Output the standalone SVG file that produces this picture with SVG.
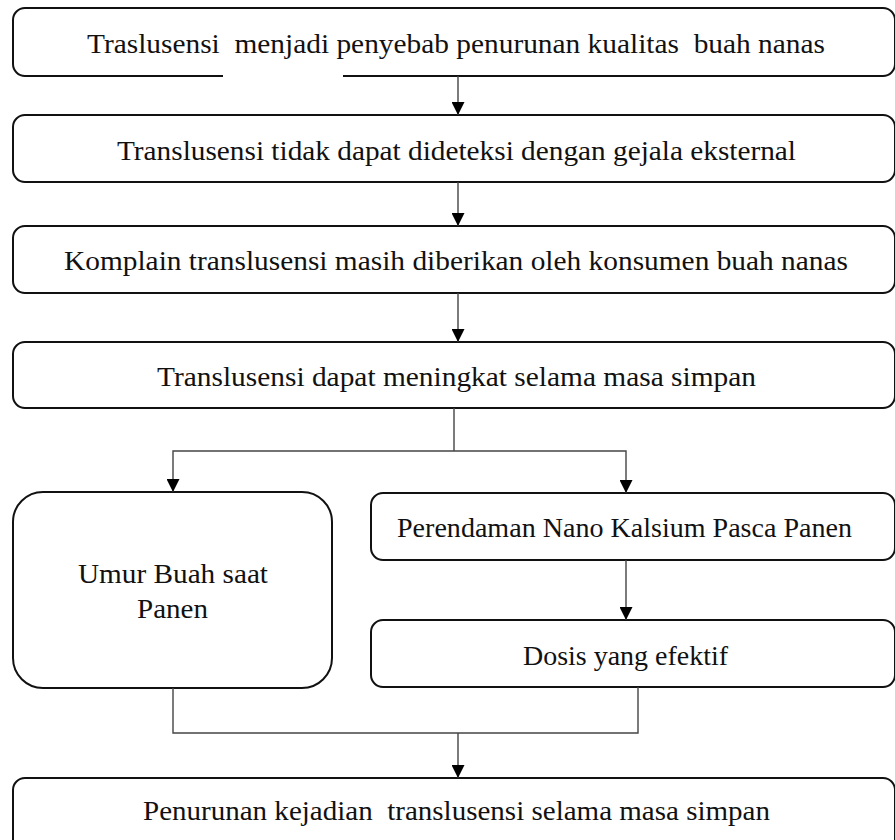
<svg xmlns="http://www.w3.org/2000/svg" width="895" height="840" viewBox="0 0 895 840">
<style>
.box{fill:#fff;stroke:#111;stroke-width:2}
.lbl{font-family:"Liberation Serif","Times New Roman",serif;font-size:28px;fill:#111;text-anchor:middle;white-space:pre}
.con{fill:none;stroke:#444;stroke-width:1.4}
</style>
<defs>
<marker id="arr" markerUnits="userSpaceOnUse" markerWidth="13" markerHeight="13" refX="13" refY="6.5" orient="auto">
<path d="M0,0 L13,6.5 L0,13 z" fill="#000"/>
</marker>
</defs>
<rect width="895" height="840" fill="#fff"/>
<g id="n1">
<rect class="box" x="13" y="8" width="882" height="68" rx="12"/>
<rect x="223" y="74" width="120" height="4" fill="#fff"/>
<text class="lbl" x="456" y="53" textLength="738" lengthAdjust="spacingAndGlyphs">Traslusensi  menjadi penyebab penurunan kualitas  buah nanas</text>
</g>
<g id="n2">
<rect class="box" x="13" y="115" width="882" height="67" rx="12"/>
<text class="lbl" x="456.5" y="160" textLength="679" lengthAdjust="spacingAndGlyphs">Translusensi tidak dapat dideteksi dengan gejala eksternal</text>
</g>
<g id="n3">
<rect class="box" x="13" y="226" width="882" height="67" rx="12"/>
<text class="lbl" x="456" y="270" textLength="784" lengthAdjust="spacingAndGlyphs">Komplain translusensi masih diberikan oleh konsumen buah nanas</text>
</g>
<g id="n4">
<rect class="box" x="13" y="342" width="882" height="66" rx="12"/>
<text class="lbl" x="456.5" y="386" textLength="599" lengthAdjust="spacingAndGlyphs">Translusensi dapat meningkat selama masa simpan</text>
</g>
<g id="n5">
<rect class="box" x="13" y="492" width="319" height="196" rx="30"/>
<text class="lbl" x="173" y="583" textLength="190" lengthAdjust="spacingAndGlyphs">Umur Buah saat</text>
<text class="lbl" x="172.5" y="618" textLength="71" lengthAdjust="spacingAndGlyphs">Panen</text>
</g>
<g id="n6">
<rect class="box" x="371" y="493" width="524" height="67" rx="12"/>
<text class="lbl" x="624.5" y="537" textLength="455" lengthAdjust="spacingAndGlyphs">Perendaman Nano Kalsium Pasca Panen</text>
</g>
<g id="n7">
<rect class="box" x="371" y="620" width="524" height="67" rx="12"/>
<text class="lbl" x="625.5" y="665" textLength="205" lengthAdjust="spacingAndGlyphs">Dosis yang efektif</text>
</g>
<g id="n8">
<rect class="box" x="13" y="778" width="882" height="80" rx="12"/>
<text class="lbl" x="456.5" y="820" textLength="627" lengthAdjust="spacingAndGlyphs">Penurunan kejadian  translusensi selama masa simpan</text>
</g>
<g id="connectors">
<path class="con" d="M458,76 V115" marker-end="url(#arr)"/>
<path class="con" d="M458,182 V226" marker-end="url(#arr)"/>
<path class="con" d="M458,293 V342" marker-end="url(#arr)"/>
<path class="con" d="M454,408 V451"/>
<path class="con" d="M454,451 H173 V492" marker-end="url(#arr)"/>
<path class="con" d="M454,451 H626 V493" marker-end="url(#arr)"/>
<path class="con" d="M626,560 V620" marker-end="url(#arr)"/>
<path class="con" d="M173,688 V733 H638 V687"/>
<path class="con" d="M458,733 V778" marker-end="url(#arr)"/>
</g>
</svg>
